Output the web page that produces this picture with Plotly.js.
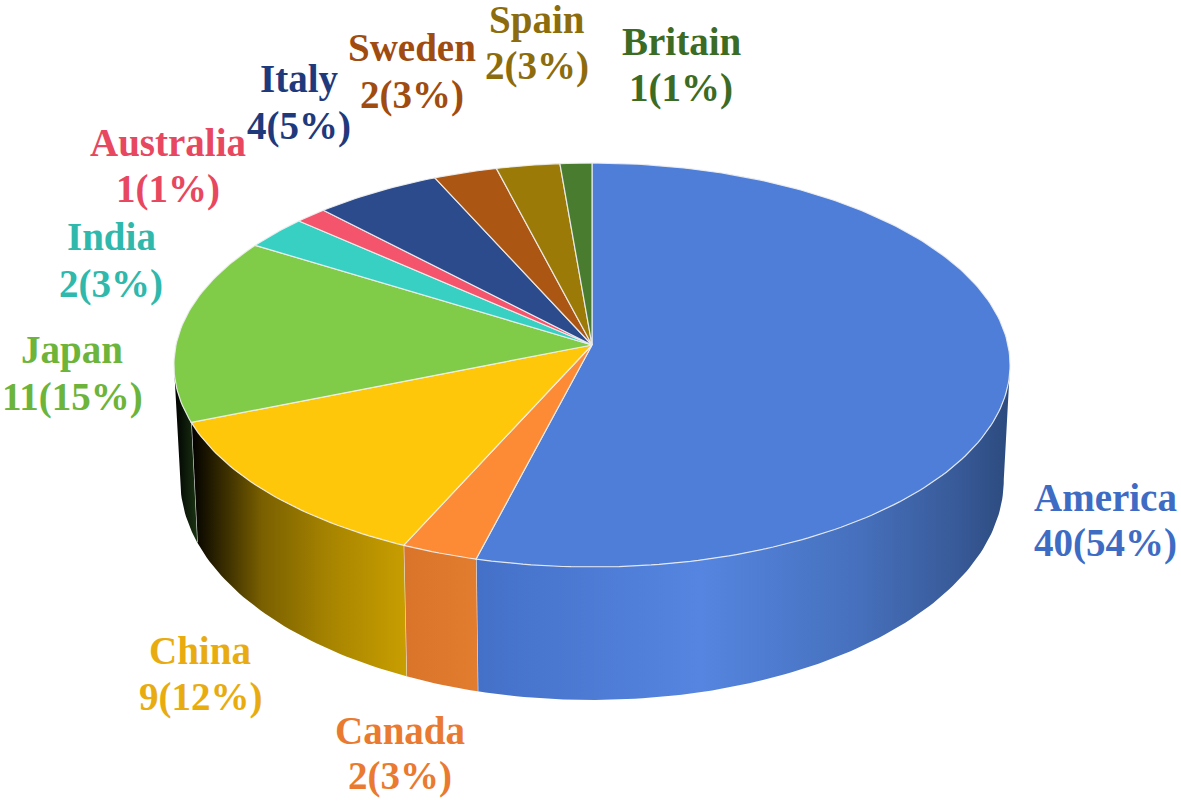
<!DOCTYPE html>
<html>
<head>
<meta charset="utf-8">
<script src="https://cdn.plot.ly/plotly-3.0.1.min.js"></script>
<style>html,body{margin:0;padding:0;background:#fff}#chart{width:1181px;height:803px}</style>
</head>
<body>
<div id="chart"></div>
<script>
// Data
const countries = ["America","Canada","China","Japan","India","Australia","Italy","Sweden","Spain","Britain"];
const counts = [40,2,9,11,2,1,4,2,2,1];

// Styles
const topColors = ["#4f7ed8","#fd8a35","#ffc70a","#80cb48","#38d0c2","#f4546c","#2c4b8c","#ac5614","#9c7a08","#4a7c30"];
const labelColors = ["#3e6cc4","#ea7a30","#e8ac10","#6cb43a","#2fb8ac","#e8485f","#1f3a7c","#a04c10","#8c6c0c","#3c6c24"];
const wallScales = {
  America: [[0,"#4470c8"],[0.42,"#5585e0"],[0.72,"#4670bc"],[0.9,"#385a98"],[1,"#2b4a7e"]],
  Canada: [[0,"#d9742a"],[1,"#e27c2e"]],
  China: [[0,"#000000"],[0.33,"#7a6000"],[0.65,"#a88500"],[1,"#c89e00"]],
  Japan: [[0,"#000000"],[1,"#1a3312"]]
};
// Label placement
const labelCx = [1105,400,200,72,111,168,299,412,537,681];
const nameCy = [497,730,650,350,236,142,79,47,20,41];
const countCy = [543,776,697,397,284,189,126,95,66,88];

// Projection of the pie disc
const cx = 592, topCy = 345, botCy = 458;
const R = 416, A = 200, K = 0.099;
const botScaleX = 0.985, botScaleY = 1.09;
const toRad = Math.PI/180;
function rimPoint(deg, cy, sx, sy){
  const t = deg*toRad, w = 1 + K*Math.cos(t);
  return [cx + sx*R*Math.sin(t)/w, cy - sy*A*Math.cos(t)/w];
}
function arc(a, b, cy, sx, sy){
  const pts = [], n = Math.max(2, Math.ceil(Math.abs(b-a)));
  for(let i=0;i<=n;i++) pts.push(rimPoint(a+(b-a)*i/n, cy, sx, sy));
  return pts;
}

const total = counts.reduce((p,c)=>p+c,0);
let running = 0;
const slices = counts.map(v=>{const s=running/total*360; running+=v; return [s, running/total*360];});
const wallStart = 90 + Math.asin(K)/toRad, wallEnd = 270 - Math.asin(K)/toRad;
const edge = {color:"rgba(238,240,240,0.9)", width:1.2};
const traces = [];

// Walls
countries.forEach((name,i)=>{
  const a = Math.max(slices[i][0], wallStart), b = Math.min(slices[i][1], wallEnd);
  if(b <= a) return;
  const pts = arc(a,b,topCy,1,1).concat(arc(b,a,botCy,botScaleX,botScaleY));
  pts.push(pts[0]);
  traces.push({type:"scatter",mode:"lines",x:pts.map(p=>p[0]),y:pts.map(p=>p[1]),
    fill:"toself",fillgradient:{type:"horizontal",colorscale:wallScales[name]},
    line:{color:"rgba(0,0,0,0)",width:0},hoverinfo:"skip"});
  const sep = [arc(b,b,topCy,1,1)[0], arc(b,b,botCy,botScaleX,botScaleY)[0]];
  if(slices[i][1] < wallEnd){
    traces.push({type:"scatter",mode:"lines",x:sep.map(p=>p[0]),y:sep.map(p=>p[1]),line:edge,hoverinfo:"skip"});
  }
});

// Top face
countries.forEach((name,i)=>{
  const pts = [[cx,topCy]].concat(arc(slices[i][0],slices[i][1],topCy,1,1));
  pts.push([cx,topCy]);
  traces.push({type:"scatter",mode:"lines",x:pts.map(p=>p[0]),y:pts.map(p=>p[1]),
    fill:"toself",fillcolor:topColors[i],line:edge,
    name:name,text:name+": "+counts[i],hoveron:"fills",hoverinfo:"text"});
});

// Labels
const annotations = [];
countries.forEach((name,i)=>{
  const pct = Math.round(counts[i]/total*100);
  const font = {family:"'Liberation Serif','Times New Roman',serif",size:39,color:labelColors[i]};
  const common = {xref:"x",yref:"y",x:labelCx[i],showarrow:false,xanchor:"center",yanchor:"middle",font:font};
  annotations.push(Object.assign({},common,{y:nameCy[i],text:"<b>"+name+"</b>"}));
  annotations.push(Object.assign({},common,{y:countCy[i],text:"<b>"+counts[i]+"("+pct+"%)</b>"}));
});

Plotly.newPlot("chart",traces,{
  width:1181,height:803,margin:{l:0,r:0,t:0,b:0},
  paper_bgcolor:"#fff",plot_bgcolor:"#fff",showlegend:false,
  xaxis:{range:[0,1181],visible:false,fixedrange:true},
  yaxis:{range:[803,0],visible:false,fixedrange:true},
  annotations:annotations
},{displayModeBar:false,responsive:false});
</script>
</body>
</html>
